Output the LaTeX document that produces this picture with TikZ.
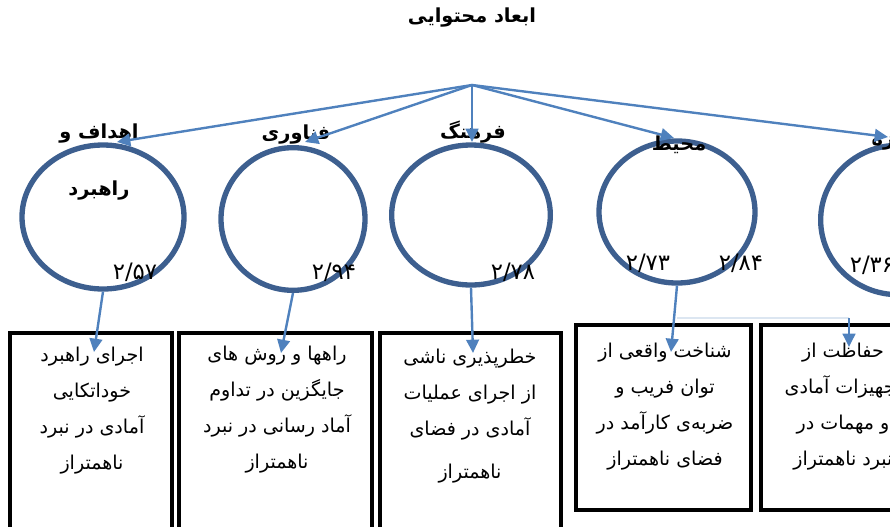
\documentclass[tikz,border=0pt]{standalone}
\usepackage{fontspec}
\newfontfamily\fa[Script=Arabic]{DejaVu Sans}
\TeXXeTstate=1
\newcommand{\rtl}[1]{\beginR #1\endR}
\usetikzlibrary{shapes.geometric,arrows.meta}
\definecolor{ringblue}{HTML}{3D5F8F}
\definecolor{feedblue}{HTML}{4F81BD}
\definecolor{paleblue}{HTML}{DCE6F1}

\begin{document}
\begin{tikzpicture}[x=0.75pt,y=-0.75pt,
	ring/.style={ellipse,draw=ringblue,line width=4pt,inner sep=0pt},
	feed/.style={-{Triangle[length=10pt,width=9.5pt]},feedblue,line width=1.8pt},
	card/.style={line width=2.6pt},
	head/.style={font=\fa\bfseries\fontsize{14.5}{17}\selectfont,inner sep=1pt},
	score/.style={font=\fa\fontsize{17}{20}\selectfont,inner sep=1pt},
	body/.style={font=\fa\fontsize{14.3}{27}\selectfont,align=center,inner sep=0pt}]
	\clip (0,0) rectangle (890,526);

	% ابعاد
	\node[ring,minimum width=121.5pt,minimum height=108pt] (c1) at (103,217) {};
	\node[ring,minimum width=108pt,minimum height=107pt] (c2) at (293,219) {};
	\node[ring,minimum width=119pt,minimum height=105pt] (c3) at (471,215) {};
	\node[ring,minimum width=117pt,minimum height=106.5pt] (c4) at (677,212) {};
	\node[ring,minimum width=116pt,minimum height=112pt] (c5) at (898,220) {};

	% جعبه ها
	\draw[card] (10,333) rectangle (172,545);
	\draw[card] (179,333) rectangle (372,545);
	\draw[card] (380,333) rectangle (561,545);
	\draw[card] (576,325) rectangle (751,510);
	\draw[card] (761,325) rectangle (940,510);

	\node[body] (x1) at (92,411) {\rtl{اجرای راهبرد}\\\rtl{خوداتکایی}\\\rtl{آمادی در نبرد}\\\rtl{ناهمتراز}};
	\node[body] (x2) at (277,410) {\rtl{راهها و روش های}\\\rtl{جایگزین در تداوم}\\\rtl{آماد رسانی در نبرد}\\\rtl{ناهمتراز}};
	\node[body] (x3) at (470,416) {\rtl{خطرپذیری ناشی}\\\rtl{از اجرای عملیات}\\\rtl{آمادی در فضای}\\[5pt]\rtl{ناهمتراز}};
	\node[body] (x4) at (665,407) {\rtl{شناخت واقعی از}\\\rtl{توان فریب و}\\\rtl{ضربه‌ی کارآمد در}\\\rtl{فضای ناهمتراز}};
	\node[body] (x5) at (843,407) {\rtl{حفاظت از}\\\rtl{تجهیزات آمادی}\\\rtl{و مهمات در}\\\rtl{نبرد ناهمتراز}};

	% عنوان ها
	\node[head] (top) at (472,18) {\rtl{ابعاد محتوایی}};
	\node[head,align=center] (l1) at (99,162) {\rtl{اهداف و}\\[26pt]\rtl{راهبرد}};
	\node[head] (l2) at (296,135) {\rtl{فناوری}};
	\node[head] (l3) at (473,132) {\rtl{فرهنگ}};
	\node[head] (l4) at (679,145) {\rtl{محیط}};
	\node[head] (l5) at (896,143) {\rtl{حوزه}};

	\node[score] (n1) at (135,272) {۲/۵۷};
	\node[score] (n2) at (334,272) {۲/۹۴};
	\node[score] (n3) at (513,272) {۲/۷۸};
	\node[score] (n4) at (648,263) {۲/۷۳};
	\node[score] (n6) at (741,263) {۲/۸۴};
	\node[score] (n5) at (872,265) {۲/۳۶};

	% پیکان ها
	\coordinate (hub) at (472,85);
	\coordinate (e1) at (117,142);
	\coordinate (e2) at (305,142);
	\coordinate (e3) at (472,142);
	\coordinate (e4) at (674,138);
	\coordinate (e5) at (888,137);
	\coordinate (t1) at (94,352);
	\coordinate (t2) at (281,353);
	\coordinate (t3) at (473,353);
	\coordinate (t4) at (671,352);
	\coordinate (t5) at (849,347);
	\coordinate (j4) at (677,318);
	\coordinate (j5) at (849,318);

	\draw[paleblue,line width=1.5pt] (j4) -- (j5);
	\draw[feed] (hub) -- (e1);
	\draw[feed] (hub) -- (e2);
	\draw[feed] (hub) -- (e3);
	\draw[feed] (hub) -- (e4);
	\draw[feed] (hub) -- (e5);
	\draw[feed] (c1.south) -- (t1);
	\draw[feed] (c2.south) -- (t2);
	\draw[feed] (c3.south) -- (t3);
	\draw[feed] (c4.south) -- (t4);
	\draw[feed] (j5) -- (t5);
\end{tikzpicture}
\end{document}
